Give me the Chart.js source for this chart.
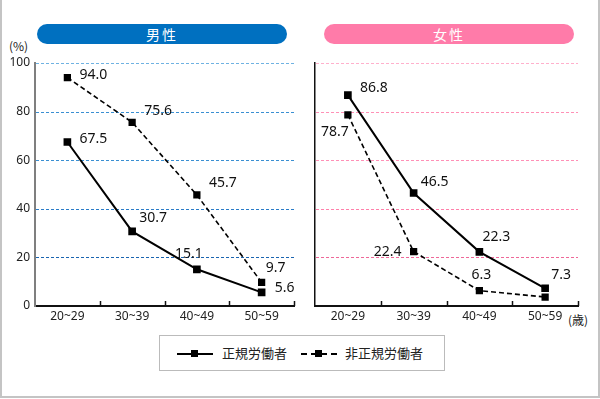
<!DOCTYPE html>
<html>
<head>
<meta charset="utf-8">
<script src="https://cdn.jsdelivr.net/npm/chart.js@4.4.1/dist/chart.umd.min.js"></script>
<style>
  html, body { margin: 0; padding: 0; background: #fff; }
  body { width: 600px; height: 399px; position: relative; overflow: hidden;
         font-family: "Noto Sans", "Noto Sans CJK JP", sans-serif; color: #222; }
  .frame { position: absolute; left: 0; top: -2px; width: 596px; height: 396px; border: 2px solid #c4c4c4; }
  .pill { position: absolute; top: 24px; height: 20px; border-radius: 10px; color: #fff;
          font-size: 14px; line-height: 20px; text-align: center; letter-spacing: 2px;
          font-family: "Noto Sans CJK JP", sans-serif; }
  .wrap { position: absolute; top: 0; width: 300px; height: 330px; }
  .unit { position: absolute; font-size: 12px; font-family: "Noto Sans CJK JP", sans-serif; }
  .legend { position: absolute; left: 159px; top: 335px; width: 284px; height: 34px;
            border: 1px solid #bbb; font-size: 13px; font-family: "Noto Sans CJK JP", sans-serif; }
  .sym { position: absolute; top: 17px; width: 36px; height: 0; border-top: 2px solid #000; }
  .sym.dash { border-top: 2px dashed #000; }
  .sym i { position: absolute; left: 14px; top: -5px; width: 7px; height: 7px; background: #000; }
  .ltxt { position: absolute; top: 8px; line-height: 18px; }
</style>
</head>
<body>
<div class="frame"></div>
<div class="pill" id="malePill" style="left:37px;width:250px;background:#0070c0;"></div>
<div class="pill" id="femalePill" style="left:324px;width:250px;background:#ff7ba9;"></div>
<div class="unit" style="left:9px;top:37px;">(%)</div>
<div class="unit" style="left:568px;top:311px;">(歳)</div>
<div class="wrap" style="left:0;"><canvas id="maleChart"></canvas></div>
<div class="wrap" style="left:300px;"><canvas id="femaleChart"></canvas></div>
<div class="legend">
  <div class="sym" style="left:17px;"><i></i></div>
  <div class="ltxt" id="lg0" style="left:62px;"></div>
  <div class="sym dash" style="left:141px;"><i></i></div>
  <div class="ltxt" id="lg1" style="left:185px;"></div>
</div>
<script>
// 年齢階級別の割合(%)
const categories = ['20~29', '30~39', '40~49', '50~59'];
const panelTitles = ['男性', '女性'];
const seriesNames = ['正規労働者', '非正規労働者'];

const maleRegular      = [67.5, 30.7, 15.1, 5.6];
const maleNonRegular   = [94.0, 75.6, 45.7, 9.7];
const femaleRegular    = [86.8, 46.5, 22.3, 7.3];
const femaleNonRegular = [78.7, 22.4, 6.3, 3.7];

const yTicks = [0, 20, 40, 60, 80, 100];

document.getElementById('malePill').textContent = panelTitles[0];
document.getElementById('femalePill').textContent = panelTitles[1];
document.getElementById('lg0').textContent = seriesNames[0];
document.getElementById('lg1').textContent = seriesNames[1];

Chart.defaults.font.family = '"Noto Sans", "Noto Sans CJK JP", sans-serif';
Chart.defaults.color = '#222';

// value label placement per point: [dx, dy, align] (null = no label)
const maleLabelPos = [
  [[12, -3, 'left'], [7, -13, 'left'], [-8, -15, 'center'], [13, -4, 'left']],
  [[12, -3, 'left'], [12, -11, 'left'], [12, -12, 'left'], [4, -14, 'left']]
];
const femaleLabelPos = [
  [[12, -7, 'left'], [7, -11, 'left'], [3, -15, 'left'], [6, -13, 'left']],
  [[1, 17, 'right'], [-12, 0, 'right'], [2, -16, 'center'], null]
];

// dotted horizontal guides (drawn dot by dot, dashed 1px strokes render badly here)
const dottedGrid = {
  id: 'dottedGrid',
  beforeDatasetsDraw(chart, args, opts) {
    const c = chart.ctx;
    const ys = chart.scales.y;
    const { left, right } = chart.chartArea;
    c.save();
    yTicks.forEach(v => {
      const col = opts.colors[v];
      if (!col) return;
      const y = Math.round(ys.getPixelForValue(v));
      c.fillStyle = col;
      for (let x = Math.round(left) + 1; x < right; x += 5) {
        c.fillRect(x, y, Math.min(3, right - x), 1);
      }
    });
    c.restore();
  }
};

const panelDecor = {
  id: 'panelDecor',
  afterDatasetsDraw(chart, args, opts) {
    const c = chart.ctx;
    const xs = chart.scales.x;
    const bottom = chart.chartArea.bottom;
    c.save();
    // small ticks between categories, pointing up
    c.strokeStyle = '#111';
    c.lineWidth = 1.5;
    for (let i = 1; i <= categories.length; i++) {
      const x = i < categories.length
        ? (xs.getPixelForValue(i - 1) + xs.getPixelForValue(i)) / 2
        : chart.chartArea.right;
      c.beginPath();
      c.moveTo(Math.round(x) + 0.5, bottom);
      c.lineTo(Math.round(x) + 0.5, bottom - 5);
      c.stroke();
    }
    // value labels
    c.fillStyle = '#111';
    c.font = '14px "Noto Sans", sans-serif';
    c.textBaseline = 'middle';
    chart.data.datasets.forEach((ds, di) => {
      const meta = chart.getDatasetMeta(di);
      meta.data.forEach((pt, j) => {
        const p = opts.pos[di][j];
        if (!p) return;
        c.textAlign = p[2];
        c.fillText(ds.data[j].toFixed(1), pt.x + p[0], pt.y + p[1]);
      });
    });
    c.restore();
  }
};

function makeChart(id, regular, nonRegular, labelPos, opt) {
  return new Chart(document.getElementById(id), {
    type: 'line',
    data: {
      labels: categories,
      datasets: [
        {
          label: seriesNames[0],
          data: regular,
          borderColor: '#000',
          borderWidth: 2,
          pointStyle: 'rect',
          pointRadius: 4,
          pointBackgroundColor: '#000',
          pointBorderColor: '#000',
          tension: 0
        },
        {
          label: seriesNames[1],
          data: nonRegular,
          borderColor: '#000',
          borderWidth: 1.6,
          borderDash: [5, 3],
          pointStyle: 'rect',
          pointRadius: 4,
          pointBackgroundColor: '#000',
          pointBorderColor: '#000',
          tension: 0
        }
      ]
    },
    options: {
      responsive: true,
      maintainAspectRatio: false,
      animation: false,
      events: [],
      layout: { padding: { top: 63, right: opt.right, left: 0, bottom: 0 } },
      plugins: {
        legend: { display: false },
        tooltip: { enabled: false },
        dottedGrid: { colors: opt.grid },
        panelDecor: { pos: labelPos }
      },
      scales: {
        x: {
          offset: true,
          grid: { display: false, drawTicks: false },
          border: { display: true, color: '#111', width: 2 },
          ticks: { font: { size: 12 }, color: '#222', padding: 3, maxRotation: 0 },
          afterFit: s => { s.height = 24; }
        },
        y: {
          min: 0,
          max: 100,
          afterBuildTicks: s => { s.ticks = yTicks.map(v => ({ value: v })); },
          grid: { display: false, drawTicks: false },
          border: { display: true, color: opt.axisColor, width: opt.axisWidth },
          ticks: { display: opt.showTicks, font: { size: 12 }, color: '#222', padding: 5 },
          afterFit: s => { s.width = opt.axisLeft; }
        }
      }
    },
    plugins: [dottedGrid, panelDecor]
  });
}

makeChart('maleChart', maleRegular, maleNonRegular, maleLabelPos, {
  right: 3, axisLeft: 35, showTicks: true, axisColor: '#7f7f7f', axisWidth: 2,
  grid: { 100: '#6fb2e2', 80: '#3a8fd2', 60: '#3a8fd2', 40: '#2a7cc8', 20: '#1a64b0' }
});
makeChart('femaleChart', femaleRegular, femaleNonRegular, femaleLabelPos, {
  right: 22, axisLeft: 15, showTicks: false, axisColor: '#111', axisWidth: 1.5,
  grid: { 100: '#ffb0cc', 80: '#ff90b6', 60: '#ff90b6', 40: '#ff80aa', 20: '#ee6898' }
});
</script>
</body>
</html>
